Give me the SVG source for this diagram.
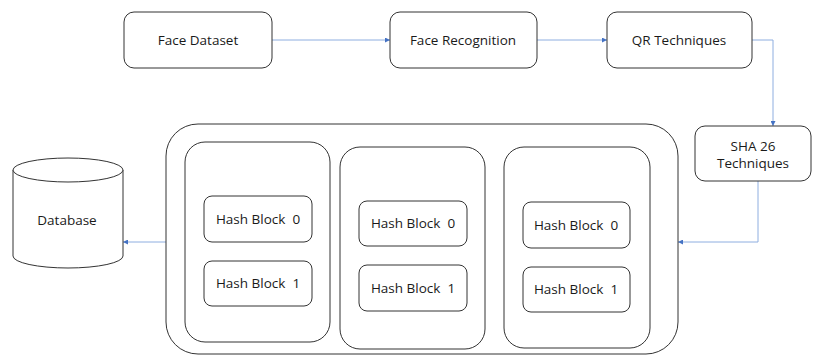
<svg xmlns="http://www.w3.org/2000/svg" width="813" height="356" viewBox="0 0 813 356">
<defs>
<marker id="ah" viewBox="0 0 6 6" refX="6" refY="3" markerWidth="5" markerHeight="5" orient="auto" markerUnits="userSpaceOnUse">
<path d="M0,0 L6,3 L0,6 z" fill="#4472c4"/>
</marker>
<style>
.box{fill:#fff;stroke:#333;stroke-width:1}
.t{font-family:"Open Sans","Liberation Sans",sans-serif;font-size:13.5px;font-weight:500;fill:#1a1a1a;text-anchor:middle;dominant-baseline:central;white-space:pre}
.c{fill:none;stroke:#8eaee0;stroke-width:1;marker-end:url(#ah)}
</style>
</defs>
<rect width="813" height="356" fill="#fff"/>
<g id="connectors">
<path class="c" d="M272,40 H390"/>
<path class="c" d="M537,40 H607"/>
<path class="c" d="M752,40 H773 V126"/>
<path class="c" d="M758,181 V242 H678"/>
<path class="c" d="M166,242 H123"/>
</g>
<g id="face-dataset"><rect class="box" x="124" y="12" width="148" height="56" rx="10"/><text class="t" x="198" y="40">Face Dataset</text></g>
<g id="face-recognition"><rect class="box" x="390" y="12" width="147" height="56" rx="10"/><text class="t" x="463" y="40">Face Recognition</text></g>
<g id="qr-techniques"><rect class="box" x="607" y="12" width="145" height="56" rx="10"/><text class="t" x="679" y="40">QR Techniques</text></g>
<g id="sha"><rect class="box" x="695" y="126" width="116" height="55" rx="10"/><text class="t" x="753" y="146">SHA 26</text><text class="t" x="753" y="163">Techniques</text></g>
<g id="database">
<path class="box" d="M13,170 V256 A55,12 0 0 0 123,256 V170"/>
<ellipse class="box" cx="68" cy="170" rx="55" ry="12"/>
<text class="t" x="67" y="220">Database</text>
</g>
<g id="chain">
<rect class="box" x="166" y="124" width="512" height="230" rx="32"/>
<g id="block-1">
<rect class="box" x="185" y="142" width="145" height="200" rx="20"/>
<rect class="box" x="204" y="196" width="108" height="46" rx="8"/><text class="t" x="258" y="219">Hash Block  0</text>
<rect class="box" x="204" y="261" width="108" height="45" rx="8"/><text class="t" x="258" y="283">Hash Block  1</text>
</g>
<g id="block-2">
<rect class="box" x="340" y="147" width="145" height="202" rx="20"/>
<rect class="box" x="359" y="201" width="108" height="45" rx="8"/><text class="t" x="413" y="223">Hash Block  0</text>
<rect class="box" x="359" y="265" width="108" height="46" rx="8"/><text class="t" x="413" y="288">Hash Block  1</text>
</g>
<g id="block-3">
<rect class="box" x="504" y="147" width="146" height="201" rx="20"/>
<rect class="box" x="523" y="202" width="107" height="46" rx="8"/><text class="t" x="576" y="225">Hash Block  0</text>
<rect class="box" x="523" y="267" width="107" height="45" rx="8"/><text class="t" x="576" y="289">Hash Block  1</text>
</g>
</g>
</svg>
